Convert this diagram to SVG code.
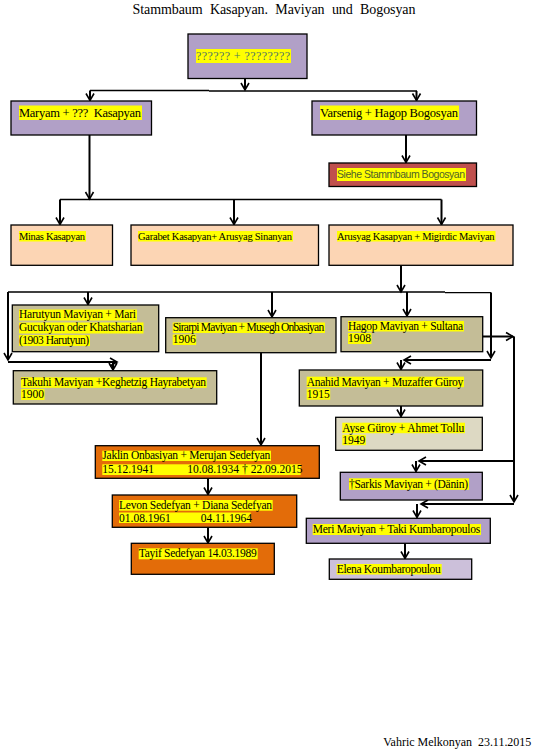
<svg xmlns="http://www.w3.org/2000/svg" width="534" height="751" viewBox="0 0 534 751">
<style>
.t{font-family:"Liberation Serif","Times New Roman",serif;font-size:11.5px;fill:#000}
.s{font-size:10.5px}
.m{font-size:12.5px}
.hl{fill:#ffff00}
.box{stroke:#000;stroke-width:1.3}
.purple{fill:#b1a0c7}
.peach{fill:#fcd5b4}
.tan{fill:#c4bd97}
.ltan{fill:#ddd9c3}
.orange{fill:#e36c09}
.lav{fill:#ccc0da}
.red{fill:#c0504d}
.c{fill:none;stroke:#000;stroke-width:2}
.bus{fill:none;stroke:#000;stroke-width:1.3}
</style>
<defs>
<marker id="ah" viewBox="-9 -6 11 12" refX="0" refY="0" markerWidth="11" markerHeight="12" markerUnits="userSpaceOnUse" orient="auto">
<path d="M-7,-4 L0,0 L-7,4" fill="none" stroke="#000" stroke-width="1.6"/>
</marker>
</defs>
<rect width="534" height="751" fill="#fff"/>
<text class="t" x="132.5" y="13.5" style="font-size:14px;word-spacing:4px" textLength="283">Stammbaum Kasapyan. Maviyan und Bogosyan</text>

<g id="connectors">
<path class="c" d="M245,78 V90" marker-end="url(#ah)"/>
<path class="bus" d="M90,90.5 H209 M209,91 H417"/>
<path class="c" d="M90,90.5 V100.5" marker-end="url(#ah)"/>
<path class="c" d="M416.5,91 V100.5" marker-end="url(#ah)"/>
<path class="c" d="M406,135 V162.5" marker-end="url(#ah)"/>
<path class="c" d="M89.5,135 V199" marker-end="url(#ah)"/>
<path class="bus" d="M60,199.5 H441.5"/>
<path class="c" d="M60,199.5 V224.5" marker-end="url(#ah)"/>
<path class="c" d="M234,199.5 V224.5" marker-end="url(#ah)"/>
<path class="c" d="M441.5,199.5 V224.5" marker-end="url(#ah)"/>
<path class="c" d="M401,265.5 V292" marker-end="url(#ah)"/>
<path class="bus" d="M8,292 H445 M445,292.7 H491"/>
<path class="c" d="M8,292 V360" marker-end="url(#ah)"/>
<path class="c" d="M8,362 H117" marker-end="url(#ah)"/>
<path class="c" d="M113,362 V370" marker-end="url(#ah)"/>
<path class="c" d="M88,292 V304.5" marker-end="url(#ah)"/>
<path class="c" d="M272,292 V317" marker-end="url(#ah)"/>
<path class="c" d="M407,292 V316" marker-end="url(#ah)"/>
<path class="c" d="M491,292.5 V358" marker-end="url(#ah)"/>
<path class="c" d="M491,360 H404" marker-end="url(#ah)"/>
<path class="c" d="M401,360 V369.5" marker-end="url(#ah)"/>
<path class="c" d="M261,352.5 V445" marker-end="url(#ah)"/>
<path class="c" d="M482.5,336.5 H513" marker-end="url(#ah)"/>
<path class="c" d="M514,336.5 V502" marker-end="url(#ah)"/>
<path class="c" d="M514,461 H419" marker-end="url(#ah)"/>
<path class="c" d="M416,461 V471.5" marker-end="url(#ah)"/>
<path class="c" d="M514,504 H421" marker-end="url(#ah)"/>
<path class="c" d="M417,504 V517.5" marker-end="url(#ah)"/>
<path class="c" d="M401,406 V416.5" marker-end="url(#ah)"/>
<path class="c" d="M208,478.3 V494.5" marker-end="url(#ah)"/>
<path class="c" d="M208,527.3 V543" marker-end="url(#ah)"/>
<path class="c" d="M405,543.3 V558.5" marker-end="url(#ah)"/>
</g>

<g id="n-top">
<rect class="box purple" x="188" y="34" width="119" height="44.5"/>
<rect class="hl" x="196" y="49" width="95" height="14"/>
<text class="t" x="196" y="60" style="font-size:12px;fill:#4e7466" textLength="94">?????? + ????????</text>
</g>

<g id="n-maryam">
<rect class="box purple" x="11" y="101" width="140.5" height="34"/>
<rect class="hl" x="19" y="105.5" width="123" height="14.5"/>
<text class="t m" x="19" y="116.5" textLength="122" xml:space="preserve">Maryam + ???  Kasapyan</text>
</g>

<g id="n-varsenig">
<rect class="box purple" x="312" y="101" width="164.5" height="34"/>
<rect class="hl" x="320" y="105.5" width="139" height="14.5"/>
<text class="t m" x="320" y="116.5" textLength="138">Varsenig + Hagop Bogosyan</text>
</g>

<g id="n-siehe">
<rect class="box red" x="329" y="163" width="147.5" height="23.5"/>
<rect class="hl" x="337" y="168" width="129" height="13"/>
<text x="337" y="178" style="font-family:'Liberation Sans','Open Sans',sans-serif;font-size:10.5px;fill:#4f6228" textLength="128">Siehe Stammbaum Bogosyan</text>
</g>

<g id="n-minas">
<rect class="box peach" x="11" y="225" width="101.5" height="40.3"/>
<rect class="hl" x="19" y="231" width="67" height="10.5"/>
<text class="t s" x="19" y="239.5" textLength="66">Minas Kasapyan</text>
</g>

<g id="n-garabet">
<rect class="box peach" x="131" y="225" width="187.5" height="40.3"/>
<rect class="hl" x="138" y="231" width="155" height="10.5"/>
<text class="t s" x="138" y="239.5" textLength="154">Garabet Kasapyan+ Arusyag Sinanyan</text>
</g>

<g id="n-arusyag">
<rect class="box peach" x="329" y="225" width="184" height="40.3"/>
<rect class="hl" x="337" y="231" width="158.5" height="10.5"/>
<text class="t s" x="337" y="239.5" textLength="157.5">Arusyag Kasapyan + Migirdic Maviyan</text>
</g>

<g id="n-harutyun">
<rect class="box tan" x="12.3" y="305" width="146.4" height="46.7"/>
<rect class="hl" x="19" y="309.5" width="118" height="11"/>
<rect class="hl" x="19" y="322.5" width="124.5" height="11"/>
<rect class="hl" x="19" y="335" width="71" height="11"/>
<text class="t" x="19" y="318" textLength="117">Harutyun Maviyan + Mari</text>
<text class="t" x="19" y="331" textLength="123.5">Gucukyan oder Khatsharian</text>
<text class="t" x="19" y="343.5" textLength="70">(1903 Harutyun)</text>
</g>

<g id="n-sirarpi">
<rect class="box tan" x="165.7" y="317.7" width="170.3" height="35"/>
<rect class="hl" x="172.7" y="322.5" width="152.3" height="10.5"/>
<rect class="hl" x="172.7" y="334.5" width="23.5" height="10.5"/>
<text class="t" x="172.7" y="331" textLength="151.5">Sirarpi Maviyan + Musegh Onbasiyan</text>
<text class="t" x="172.7" y="342.5">1906</text>
</g>

<g id="n-hagop">
<rect class="box tan" x="341" y="316.7" width="141.7" height="35"/>
<rect class="hl" x="348" y="321" width="116" height="10.5"/>
<rect class="hl" x="348" y="333" width="23.5" height="11"/>
<text class="t" x="348" y="330" textLength="115">Hagop Maviyan + Sultana</text>
<text class="t" x="348" y="342">1908</text>
</g>

<g id="n-takuhi">
<rect class="box tan" x="13.3" y="370.7" width="203.4" height="33.3"/>
<rect class="hl" x="21" y="377.3" width="185.7" height="10.5"/>
<rect class="hl" x="21" y="389" width="23.5" height="11"/>
<text class="t" x="21" y="386" textLength="185">Takuhi Maviyan +Keghetzig Hayrabetyan</text>
<text class="t" x="21" y="397.5">1900</text>
</g>

<g id="n-anahid">
<rect class="box tan" x="299.3" y="370" width="183.4" height="36"/>
<rect class="hl" x="306.7" y="376.7" width="157.3" height="10.5"/>
<rect class="hl" x="306.7" y="388.7" width="23.5" height="11"/>
<text class="t" x="306.7" y="385.5" textLength="156.5">Anahid Maviyan + Muzaffer Güroy</text>
<text class="t" x="306.7" y="397.5">1915</text>
</g>

<g id="n-ayse">
<rect class="box ltan" x="335.7" y="417.3" width="146.6" height="33"/>
<rect class="hl" x="342.3" y="422.7" width="122.7" height="10.5"/>
<rect class="hl" x="342.3" y="434.7" width="23.5" height="10.5"/>
<text class="t" x="342.3" y="431.5" textLength="122">Ayse Güroy + Ahmet Tollu</text>
<text class="t" x="342.3" y="443.5">1949</text>
</g>

<g id="n-jaklin">
<rect class="box orange" x="95.3" y="445.7" width="224" height="32.6"/>
<rect class="hl" x="102.3" y="450.7" width="168.7" height="10.3"/>
<rect class="hl" x="102.3" y="464.3" width="198.4" height="10.7"/>
<text class="t" x="102.3" y="459" textLength="168">Jaklin Onbasiyan + Merujan Sedefyan</text>
<text class="t" y="473"><tspan x="102.3">15.12.1941</tspan><tspan x="187.3">10.08.1934</tspan><tspan x="242">† 22.09.2015</tspan></text>
</g>

<g id="n-levon">
<rect class="box orange" x="112.3" y="495" width="184.4" height="32.3"/>
<rect class="hl" x="119" y="500" width="153.7" height="10.7"/>
<rect class="hl" x="119" y="512.5" width="131.7" height="10.5"/>
<text class="t" x="119" y="509" textLength="153">Levon Sedefyan + Diana Sedefyan</text>
<text class="t" y="521.5"><tspan x="119">01.08.1961</tspan><tspan x="200.7">04.11.1964</tspan></text>
</g>

<g id="n-tayif">
<rect class="box orange" x="131.3" y="543.3" width="143" height="31"/>
<rect class="hl" x="138.7" y="548.3" width="119" height="11"/>
<text class="t" x="138.7" y="557" textLength="118">Tayif Sedefyan 14.03.1989</text>
</g>

<g id="n-sarkis">
<rect class="box purple" x="340.3" y="472.3" width="142" height="27.7"/>
<rect class="hl" x="349" y="478.3" width="120" height="11.5"/>
<text class="t" x="349" y="487.5" textLength="119">†Sarkis Maviyan + (Dänin)</text>
</g>

<g id="n-meri">
<rect class="box purple" x="306.3" y="518.3" width="184" height="25"/>
<rect class="hl" x="312.7" y="524" width="168.3" height="11"/>
<text class="t" x="312.7" y="533" textLength="167.5">Meri Maviyan + Taki Kumbaropoulos</text>
</g>

<g id="n-elena">
<rect class="box lav" x="329.3" y="559" width="142.4" height="20.3"/>
<rect class="hl" x="336.7" y="564" width="105" height="10.5"/>
<text class="t" x="336.7" y="572.5" textLength="104">Elena Koumbaropoulou</text>
</g>

<text class="t" x="383.3" y="746" style="font-size:12px" textLength="148" xml:space="preserve">Vahric Melkonyan  23.11.2015</text>
</svg>
